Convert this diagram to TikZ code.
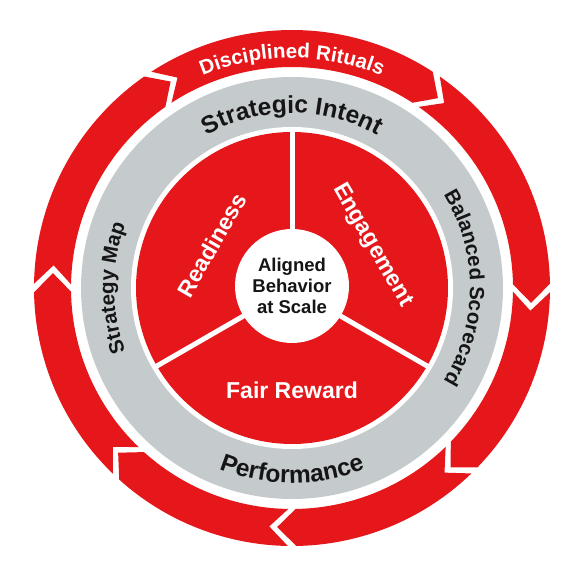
\documentclass[tikz,border=0pt]{standalone}
\usepackage{fontspec}
\setmainfont{Liberation Sans}
\usetikzlibrary{decorations.text}
\definecolor{ringred}{HTML}{E6171A}
\definecolor{ringgray}{HTML}{C5CACD}
\definecolor{inktext}{HTML}{151515}
\newcommand\Ro{258}
\newcommand\Ri{221}
\newcommand\Rm{239.5}
\newcommand\tipdl{4.5}
\newcommand\halfgap{0.95}
% clockwise arrow segment from junction #1 (higher angle) to junction #2
\newcommand\ringseg[2]{%
  \fill[ringred] ({#1-\halfgap}:\Ro)
    arc[start angle={#1-\halfgap}, end angle={#2+\halfgap}, radius=\Ro]
    -- ({#2+\halfgap-\tipdl}:\Rm) -- ({#2+\halfgap}:\Ri)
    arc[start angle={#2+\halfgap}, end angle={#1-\halfgap}, radius=\Ri]
    -- ({#1-\halfgap-\tipdl}:\Rm) -- cycle;}
\newcommand\redtxt{\fontsize{20.5}{22}\selectfont\bfseries\color{white}}
\newcommand\graytxt{\fontsize{24.5}{26}\selectfont\bfseries\color{inktext}}
\newcommand\sidetxt{\fontsize{20.5}{22}\selectfont\bfseries\color{inktext}}
\begin{document}
\begin{tikzpicture}[x=1pt,y=1pt,
  sectorlabel/.style={text=white, font=\fontsize{23}{25}\selectfont\bfseries, inner sep=0},
  divider/.style={white, line width=5}]
\useasboundingbox (0,0) rectangle (576,576);
\fill[white] (0,0) rectangle (576,576);
\begin{scope}[shift={(292,288)}]
  % outer arrow ring
  \ringseg{124}{56}
  \ringseg{56}{0}
  \ringseg{0}{-45}
  \ringseg{-45}{-90}
  \ringseg{-90}{-133}
  \ringseg{-133}{-180}
  \ringseg{180}{124}
  \path[decorate, decoration={text along path, text align=center,
      text={|\redtxt|Disciplined Rituals}}]
    (125:230) arc[start angle=125, end angle=55, radius=230];
  % gray ring
  \fill[ringgray] (0,0) circle[radius=211];
  \fill[white] (0,0) circle[radius=161];
  \path[decorate, decoration={text along path, text align=center,
      text={|\graytxt|Strategic Intent}}]
    (135:175) arc[start angle=135, end angle=45, radius=175];
  \path[decorate, decoration={text along path, text align=center,
      text={|\graytxt|Performance}}]
    (-135:195) arc[start angle=-135, end angle=-45, radius=195];
  \path[decorate, decoration={text along path, text align=center,
      text={|\sidetxt|Strategy Map}}]
    (230:178) arc[start angle=230, end angle=130, radius=178];
  \path[decorate, decoration={text along path, text align=center,
      text={|\sidetxt|Balanced Scorecard}}]
    (50:178) arc[start angle=50, end angle=-50, radius=178];
  % inner red disk with three sectors
  \fill[ringred] (0,0) circle[radius=156];
  \draw[divider] (0,0) -- (90:158);
  \draw[divider] (0,0) -- (210:158);
  \draw[divider] (0,0) -- (330:158);
  \node[circle, fill=white, minimum size=114, inner sep=0, align=center,
        text=inktext, font=\fontsize{18.5}{21}\selectfont\bfseries] (core) at (0,2)
        {Aligned\\Behavior\\at Scale};
  \node[sectorlabel, rotate=60] (ready) at (152:91) {Readiness};
  \node[sectorlabel, rotate=-60] (engage) at (28:91) {Engagement};
  \node[sectorlabel] (fair) at (270:102) {Fair Reward};
\end{scope}
\end{tikzpicture}
\end{document}
